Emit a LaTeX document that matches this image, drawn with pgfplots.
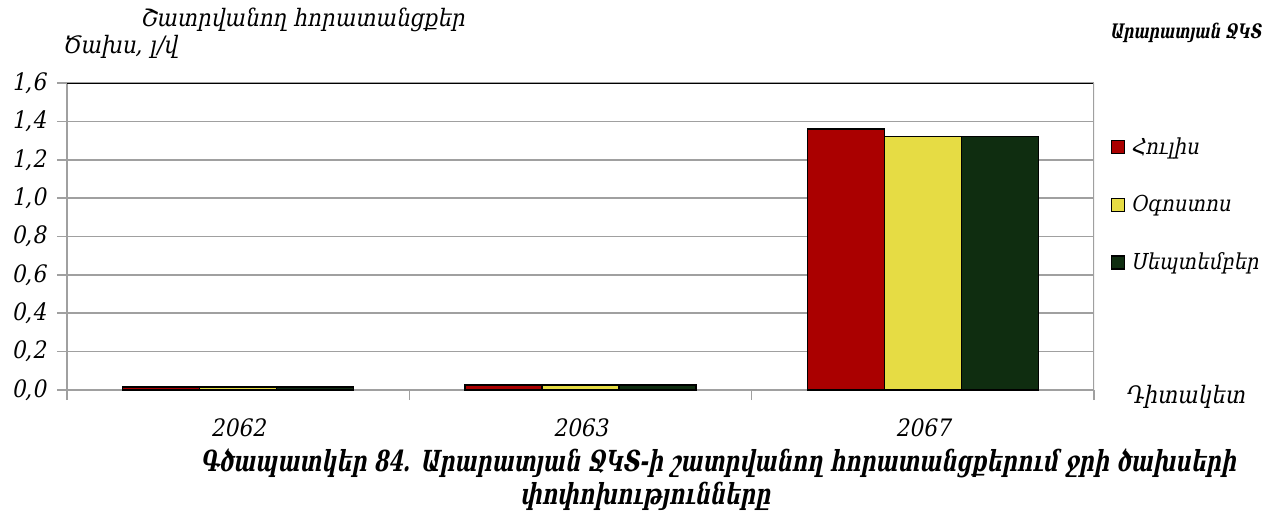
\documentclass[border=0pt]{standalone}
\usepackage{fontspec}
\setmainfont{DejaVu Serif}
\newfontfamily\armit{DejaVu Serif Condensed}[FakeSlant=0.2]
\newfontfamily\armbf{DejaVu Serif Condensed}[FakeSlant=0.2, FakeStretch=0.8]
\usepackage{pgfplots}
\pgfplotsset{compat=1.18}
\definecolor{jul}{HTML}{AA0000}
\definecolor{aug}{HTML}{E6DC44}
\definecolor{sep}{HTML}{0F2D10}
\definecolor{gridc}{HTML}{A0A0A0}

\begin{document}
\begin{tikzpicture}
\begin{axis}[
  at={(33.5pt,65.5pt)}, anchor=south west,
  scale only axis,
  width=513.5pt, height=153.5pt,
  ybar=0pt, bar width=38.5pt,
  xmin=-0.5, xmax=2.5,
  ymin=0, ymax=1.6,
  xtick=data,
  xticklabels={2062,2063,2067},
  minor xtick={-0.5,0.5,1.5,2.5},
  ytick={0,0.2,...,1.6},
  y tick label style={/pgf/number format/fixed, /pgf/number format/fixed zerofill,
    /pgf/number format/precision=1, /pgf/number format/use comma, xshift=-2pt},
  /pgf/number format/assume math mode=true,
  ticklabel style={font=\armit\fontsize{12}{14}\selectfont},
  xticklabel style={yshift=-6pt},
  tick align=outside,
  major tick length=5pt, minor tick length=5pt,
  major x tick style={draw=none},
  tick style={gridc, line width=0.8pt},
  ymajorgrids, major grid style={gridc, line width=0.8pt},
  axis x line*=bottom, axis y line*=left,
  axis line style={gridc, line width=0.8pt},
  legend style={at={(1.01,0.85)}, anchor=north west, draw=none, fill=none,
    font=\armit\fontsize{11}{13}\selectfont, row sep=15pt,
    /tikz/every odd column/.append style={column sep=1pt}},
  legend cell align=left,
  legend image code/.code={\draw[#1,line width=0.6pt] (0pt,-3.25pt) rectangle (6.5pt,3.25pt);},
]
\addplot[fill=jul, draw=black, line width=0.7pt] coordinates {(0,0.016) (1,0.027) (2,1.36)};
\addplot[fill=aug, draw=black, line width=0.7pt] coordinates {(0,0.016) (1,0.027) (2,1.32)};
\addplot[fill=sep, draw=black, line width=0.7pt] coordinates {(0,0.016) (1,0.027) (2,1.32)};
\legend{Հուլիս,Օգոստոս,Սեպտեմբեր}
\draw[black, line width=0.8pt] (rel axis cs:0,1) -- (rel axis cs:1,1);
\draw[gridc, line width=0.8pt] (rel axis cs:1,1) -- (rel axis cs:1,0);
\end{axis}
\begin{scope}[x=0.5pt, y=-0.5pt, yshift=260.5pt]
\path[use as bounding box] (0,0) rectangle (1275,521);
\node[anchor=west, font=\armit\fontsize{12}{14}\selectfont] at (133,20) {Շատրվանող հորատանցքեր};
\node[anchor=west, font=\armit\fontsize{12}{14}\selectfont] at (55,47) {Ծախս, լ/վ};
\node[anchor=east, font=\armbf\bfseries\fontsize{10}{12}\selectfont] at (1268,33) {Արարատյան ՋԿՏ};
\node[anchor=west, font=\armit\fontsize{12}{14}\selectfont] at (1118,397) {Դիտակետ};
\node[anchor=center, font=\armbf\bfseries\fontsize{14.5}{17}\selectfont] at (718,463) {Գծապատկեր 84. Արարատյան ՋԿՏ-ի շատրվանող հորատանցքերում ջրի ծախսերի};
\node[anchor=center, font=\armbf\bfseries\fontsize{14.5}{17}\selectfont] at (645,496) {փոփոխությունները};
\end{scope}
\end{tikzpicture}
\end{document}
